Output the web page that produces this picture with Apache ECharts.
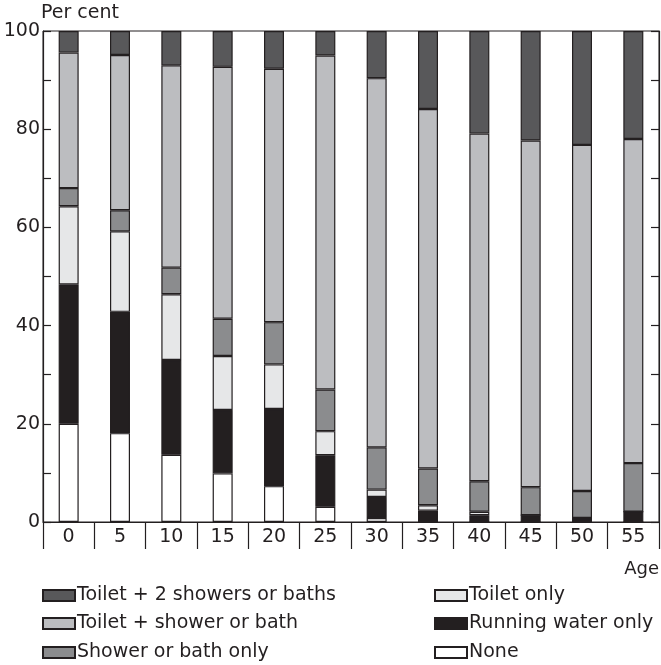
<!DOCTYPE html>
<html>
<head>
<meta charset="utf-8">
<script src="https://cdn.jsdelivr.net/npm/echarts@6/dist/echarts.min.js"></script>
<style>
html,body{margin:0;padding:0;background:#fff;}
#chart{width:661px;height:665px;}
</style>
</head>
<body>
<div id="chart"></div>
<script>
var ages = ['0','5','10','15','20','25','30','35','40','45','50','55'];
var none = [20.0, 18.1, 13.7, 9.9, 7.3, 3.1, 0.8, 0, 0, 0, 0, 0];
var runningWater = [28.4, 24.7, 19.3, 12.9, 15.7, 10.5, 4.3, 2.3, 1.4, 1.4, 0.8, 2.1];
var toiletOnly = [15.9, 16.4, 13.4, 11.0, 9.1, 4.9, 1.5, 1.1, 0.7, 0, 0, 0];
var showerOnly = [3.7, 4.3, 5.4, 7.6, 8.6, 8.5, 8.6, 7.5, 6.2, 5.7, 5.5, 9.9];
var toiletShower = [27.6, 31.6, 41.2, 51.3, 51.6, 68.0, 75.2, 73.2, 70.8, 70.6, 70.5, 66.0];
var toilet2Showers = [4.4, 4.9, 7.0, 7.3, 7.7, 5.0, 9.6, 15.9, 20.9, 22.3, 23.2, 22.0];

var legendCol1 = ['Toilet + 2 showers or baths', 'Toilet + shower or bath', 'Shower or bath only'];
var legendCol2 = ['Toilet only', 'Running water only', 'None'];

var ink = '#231f20';
var font = 'DejaVu Sans';

function mk(name, data, color) {
  return {
    name: name, type: 'bar', stack: 'all', data: data,
    barWidth: 20,
    itemStyle: { color: color, borderColor: ink, borderWidth: 1.2 },
    emphasis: { disabled: true }
  };
}

var rowTops = [586, 614, 643];
var legends = [];
function addLegend(name, left, top) {
  legends.push({
    data: [name], left: left, top: top, padding: 0,
    itemWidth: 32, itemHeight: 11, itemGap: 0, icon: 'rect',
    selectedMode: false,
    textStyle: { fontFamily: font, fontSize: 19, color: ink, padding: [0,0,0,-3] }
  });
}
legendCol1.forEach(function (n, i) { addLegend(n, 42, rowTops[i]); });
legendCol2.forEach(function (n, i) { addLegend(n, 434, rowTops[i]); });

var chart = echarts.init(document.getElementById('chart'), null, {renderer: 'canvas'});
chart.setOption({
  animation: false,
  backgroundColor: '#fff',
  grid: { left: 43, right: 2, top: 31, bottom: 143, show: true, borderColor: ink, borderWidth: 1, backgroundColor: 'transparent' },
  legend: legends,
  xAxis: {
    type: 'category', data: ages,
    axisLine: { lineStyle: { color: ink, width: 1.2 } },
    axisTick: { show: true, length: 27, alignWithLabel: false, lineStyle: { color: ink, width: 1.2 } },
    axisLabel: { fontFamily: font, fontSize: 19, color: ink, margin: 6 }
  },
  yAxis: [
    {
      type: 'value', min: 0, max: 100, interval: 10,
      splitLine: { show: false },
      axisLine: { show: true, lineStyle: { color: ink, width: 1.2 } },
      axisTick: { show: true, inside: true, length: 8, lineStyle: { color: ink, width: 1.2 } },
      axisLabel: { fontFamily: font, fontSize: 19, color: ink, margin: 3,
        formatter: function (v) { return v % 20 === 0 ? String(v) : ''; } }
    },
    {
      type: 'value', min: 0, max: 100, interval: 10, position: 'right',
      splitLine: { show: false },
      axisLine: { show: true, lineStyle: { color: ink, width: 1.2 } },
      axisTick: { show: true, inside: true, length: 8, lineStyle: { color: ink, width: 1.2 } },
      axisLabel: { show: false }
    }
  ],
  graphic: [
    { type: 'text', left: 41, top: 4,
      style: { text: 'Per cent', font: '19px "DejaVu Sans"', fill: ink } },
    { type: 'text', right: 2, top: 560,
      style: { text: 'Age', font: '18px "DejaVu Sans"', fill: ink } }
  ],
  series: [
    mk('None', none, '#ffffff'),
    mk('Running water only', runningWater, '#231f20'),
    mk('Toilet only', toiletOnly, '#e6e7e8'),
    mk('Shower or bath only', showerOnly, '#8b8c8e'),
    mk('Toilet + shower or bath', toiletShower, '#bcbdc0'),
    mk('Toilet + 2 showers or baths', toilet2Showers, '#58585a')
  ]
});
</script>
</body>
</html>
